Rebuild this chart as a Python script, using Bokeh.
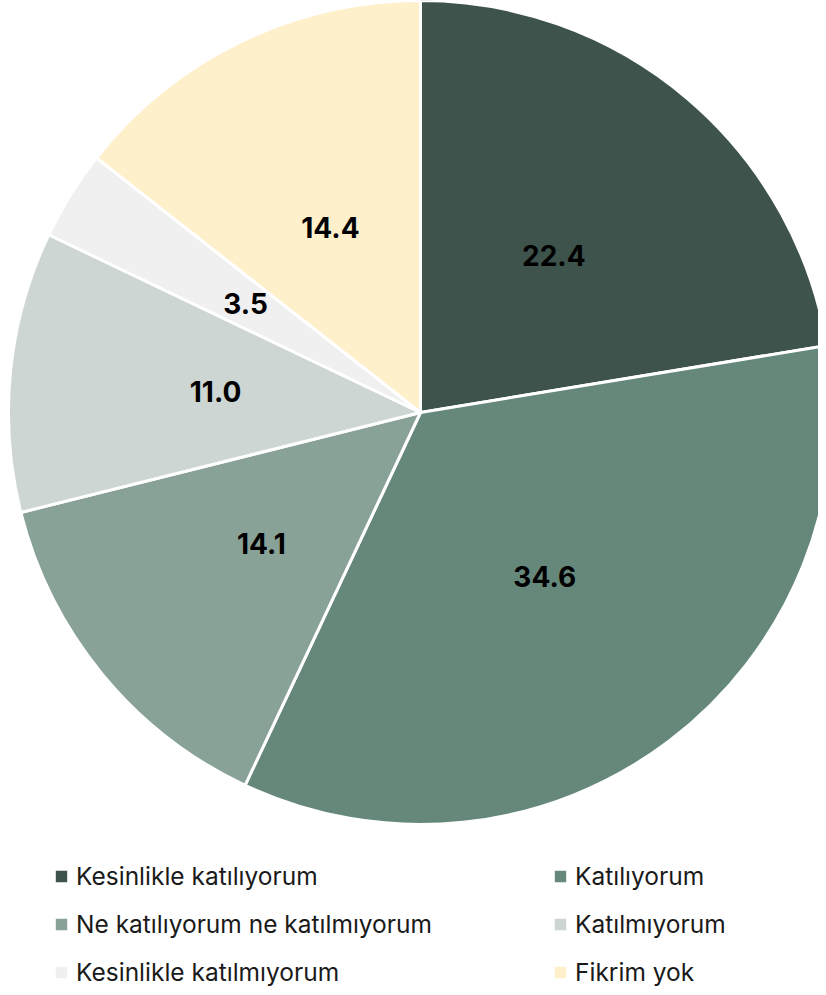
import math
from bokeh.plotting import figure
from bokeh.models import Range1d, ColumnDataSource, Legend, LegendItem
from bokeh.core.properties import value
from bokeh.embed import file_html
from bokeh.resources import INLINE

categories = ["Kesinlikle katılıyorum", "Katılıyorum", "Ne katılıyorum ne katılmıyorum",
              "Katılmıyorum", "Kesinlikle katılmıyorum", "Fikrim yok"]
values = [22.4, 34.6, 14.1, 11.0, 3.5, 14.4]
colors = ["#3d534b", "#65887a", "#89a297", "#cdd6d2", "#f0f0f0", "#fff0cc"]
labels = ["22.4", "34.6", "14.1", "11.0", "3.5", "14.4"]

W, H = 818, 987
cx, cy, R = 420, H - 412, 412

total = sum(values)
starts, ends, lx, ly = [], [], [], []
cum = 0.0
for v in values:
    a0 = math.pi / 2 - 2 * math.pi * cum / total
    a1 = math.pi / 2 - 2 * math.pi * (cum + v) / total
    starts.append(a1)
    ends.append(a0)
    mid = (a0 + a1) / 2
    lx.append(cx + 0.5 * R * math.cos(mid))
    ly.append(cy + 0.5 * R * math.sin(mid))
    cum += v

src = ColumnDataSource(dict(cat=categories, val=values, color=colors,
                            start=starts, end=ends, lx=lx, ly=ly, lab=labels))

p = figure(width=W, height=H, output_backend="svg", toolbar_location=None,
           x_range=Range1d(0, W), y_range=Range1d(0, H), min_border=0)
p.axis.visible = False
p.grid.visible = False
p.outline_line_color = None
p.background_fill_color = "white"

r = p.wedge(x=cx, y=cy, radius=R, start_angle="start", end_angle="end",
            fill_color="color", line_color="white", line_width=3, source=src)

p.text(x="lx", y="ly", text="lab", source=src, text_align="center",
       text_baseline="middle", text_font=value("Inter"), text_font_size="28px",
       text_font_style="bold", text_color="#000000")

def make_legend(idxs, loc):
    items = [LegendItem(label=categories[i], renderers=[r], index=i) for i in idxs]
    lg = Legend(items=items, location=loc, orientation="vertical",
                glyph_width=18, glyph_height=18, label_standoff=6,
                label_text_font="Inter", label_text_font_size="24.5px",
                label_text_color="#1a1a1a", spacing=18, padding=0, margin=0,
                background_fill_alpha=0, border_line_alpha=0)
    return lg

p.add_layout(make_legend([0, 2, 4], (52, 0)))
p.add_layout(make_legend([1, 3, 5], (551, 0)))

open("out.html", "w").write(file_html(p, INLINE))
